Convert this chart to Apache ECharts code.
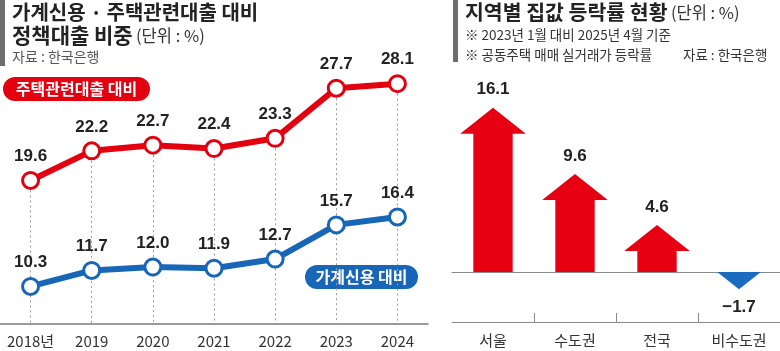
<!DOCTYPE html>
<html>
<head>
<meta charset="utf-8">
<script src="https://cdn.jsdelivr.net/npm/echarts@6/dist/echarts.min.js"></script>
<style>
  html, body { margin: 0; padding: 0; background: #fff; }
  #chart { width: 780px; height: 351px; }
</style>
</head>
<body>
<div id="chart"></div>
<script>
// 왼쪽: 가계신용 / 주택관련대출 대비 정책대출 비중
var years = ['2018년', '2019', '2020', '2021', '2022', '2023', '2024'];
var housingLoan = [19.6, 22.2, 22.7, 22.4, 23.3, 27.7, 28.1];
var householdCredit = [10.3, 11.7, 12.0, 11.9, 12.7, 15.7, 16.4];

// 오른쪽: 지역별 집값 등락률
var regions = ['서울', '수도권', '전국', '비수도권'];
var priceChange = [16.1, 9.6, 4.6, -1.7];

var RED = '#e3000f', BLUE = '#1766b8';
var KR = 'Noto Sans CJK KR';
var NUM = 'Liberation Sans, Arial, sans-serif';

var chart = echarts.init(document.getElementById('chart'));

// 점에서 축까지 점선
var dropLines = years.map(function (y, i) {
  return [{ coord: [i, housingLoan[i]] }, { coord: [i, 7] }];
});

function renderArrow(params, api) {
  var i = api.value(0), v = api.value(1);
  var base = api.coord([i, 0]);
  var tip = api.coord([i, v]);
  var band = api.size([1, 0])[0];
  var x = base[0];
  var dir = v >= 0 ? -1 : 1;
  var len = Math.abs(tip[1] - base[1]);
  var headH = Math.min(26, len);
  var headW = band * 0.8 * (headH / 26);
  var sw = band * 0.48;
  var hb = tip[1] - dir * headH;
  var pts = [
    [x - sw / 2, base[1]], [x - sw / 2, hb], [x - headW / 2, hb], [x, tip[1]],
    [x + headW / 2, hb], [x + sw / 2, hb], [x + sw / 2, base[1]]
  ];
  var txt = (v < 0 ? '\u2212' : '') + Math.abs(v).toFixed(1);
  return {
    type: 'group',
    children: [
      { type: 'polygon', shape: { points: pts }, style: { fill: v >= 0 ? '#e60012' : '#1a6cc0' } },
      {
        type: 'text',
        style: {
          text: txt, x: x, y: tip[1] + dir * 18, align: 'center', verticalAlign: 'middle',
          font: 'bold 17px ' + NUM, fill: '#222'
        }
      }
    ]
  };
}

option = {
  animation: false,
  grid: [
    { left: 0, right: 352, top: 62, bottom: 27 },
    { left: 452, right: 0, top: 68, bottom: 29 }
  ],
  xAxis: [
    {
      gridIndex: 0, type: 'category', data: years, boundaryGap: true,
      axisLine: { lineStyle: { color: '#7a7a7a', width: 1.5 } },
      axisTick: { show: false },
      axisLabel: { interval: 0, color: '#333', fontSize: 15, fontFamily: KR, margin: 10 }
    },
    {
      gridIndex: 1, type: 'category', data: regions, position: 'bottom',
      axisLine: { onZero: false, lineStyle: { color: '#8a8a8a', width: 1 } },
      axisTick: { show: true, inside: true, length: 9, lineStyle: { color: '#8a8a8a' },
        interval: function (idx) { return idx > 0; } },
      axisLabel: { interval: 0, color: '#333', fontSize: 15, fontFamily: KR, margin: 11 }
    },
    {
      gridIndex: 1, type: 'category', data: regions,
      axisLine: { onZero: true, lineStyle: { color: '#8a8a8a', width: 1 } },
      axisTick: { show: false }, axisLabel: { show: false }
    }
  ],
  yAxis: [
    { gridIndex: 0, type: 'value', min: 7, max: 30, show: false, splitLine: { show: false } },
    { gridIndex: 1, type: 'value', min: -4.9, max: 20, show: false, splitLine: { show: false } }
  ],
  graphic: [
    { type: 'rect', left: 0, top: 0, shape: { width: 5, height: 66 }, style: { fill: '#6e6e6e' } },
    { type: 'text', left: 12, top: 2, style: { text: '가계신용 · 주택관련대출 대비', font: 'bold 20px ' + KR, fill: '#222' } },
    {
      type: 'text', left: 12, top: 25,
      style: {
        text: '{b|정책대출 비중} {n|(단위 : %)}',
        rich: {
          b: { font: 'bold 21px ' + KR, fill: '#222' },
          n: { font: '16.5px ' + KR, fill: '#333' }
        }
      }
    },
    { type: 'text', left: 12, top: 50, style: { text: '자료 : 한국은행', font: '14px ' + KR, fill: '#555' } },
    { type: 'rect', left: 3, top: 77, shape: { width: 147, height: 24, r: 12 }, style: { fill: RED } },
    { type: 'text', x: 76.5, y: 89, style: { text: '주택관련대출 대비', font: 'bold 16px ' + KR, fill: '#fff', align: 'center', verticalAlign: 'middle' } },
    { type: 'rect', left: 305, top: 265, shape: { width: 113, height: 24, r: 12 }, style: { fill: BLUE } },
    { type: 'text', x: 361.5, y: 277, style: { text: '가계신용 대비', font: 'bold 16px ' + KR, fill: '#fff', align: 'center', verticalAlign: 'middle' } },

    { type: 'rect', left: 453, top: 0, shape: { width: 5, height: 62 }, style: { fill: '#6e6e6e' } },
    {
      type: 'text', left: 465, top: 2,
      style: {
        text: '{b|지역별 집값 등락률 현황} {n|(단위 : %)}',
        rich: {
          b: { font: 'bold 20.5px ' + KR, fill: '#222' },
          n: { font: '16.5px ' + KR, fill: '#333' }
        }
      }
    },
    { type: 'text', left: 465, top: 28, style: { text: '※ 2023년 1월 대비 2025년 4월 기준', font: '13.5px ' + KR, fill: '#333' } },
    { type: 'text', left: 465, top: 48, style: { text: '※ 공동주택 매매 실거래가 등락률', font: '13.5px ' + KR, fill: '#333' } },
    { type: 'text', left: 683, top: 48, style: { text: '자료 : 한국은행', font: '13.5px ' + KR, fill: '#333' } }
  ],
  series: [
    {
      name: '주택관련대출 대비', type: 'line', xAxisIndex: 0, yAxisIndex: 0,
      data: housingLoan, z: 3,
      lineStyle: { color: RED, width: 6 },
      symbol: 'circle', symbolSize: 16,
      itemStyle: { color: '#fff', borderColor: RED, borderWidth: 3 },
      label: { show: true, position: 'top', distance: 6, color: '#222', fontSize: 17, fontWeight: 'bold', fontFamily: NUM,
        formatter: function (p) { return p.value.toFixed(1); } },
      markLine: {
        silent: true, symbol: 'none', z: 1, label: { show: false },
        lineStyle: { color: '#9a9a9a', type: [2, 3], width: 1 },
        data: dropLines
      }
    },
    {
      name: '가계신용 대비', type: 'line', xAxisIndex: 0, yAxisIndex: 0,
      data: householdCredit, z: 3,
      lineStyle: { color: BLUE, width: 6 },
      symbol: 'circle', symbolSize: 16,
      itemStyle: { color: '#fff', borderColor: BLUE, borderWidth: 3 },
      label: { show: true, position: 'top', distance: 6, color: '#222', fontSize: 17, fontWeight: 'bold', fontFamily: NUM,
        formatter: function (p) { return p.value.toFixed(1); } }
    },
    {
      name: '집값 등락률', type: 'custom', xAxisIndex: 1, yAxisIndex: 1,
      renderItem: renderArrow,
      encode: { x: 0, y: 1 },
      data: priceChange.map(function (v, i) { return [i, v]; })
    }
  ]
};

chart.setOption(option);
</script>
</body>
</html>
